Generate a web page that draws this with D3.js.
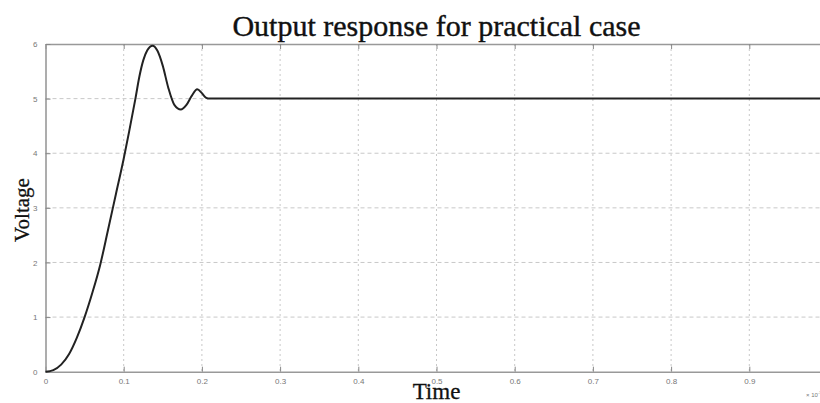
<!DOCTYPE html>
<html><head><meta charset="utf-8">
<script src="https://cdn.jsdelivr.net/npm/d3@7"></script>
<style>body{margin:0;background:#fff;}svg{display:block;}</style>
</head><body>
<svg id="c" width="820" height="403"></svg>
<script>
const title = "Output response for practical case";
const xLabel = "Time";
const yLabel = "Voltage";
const xTicks = [0,0.1,0.2,0.3,0.4,0.5,0.6,0.7,0.8,0.9];
const xTickLabels = ["0","0.1","0.2","0.3","0.4","0.5","0.6","0.7","0.8","0.9"];
const yTicks = [0,1,2,3,4,5,6];
const timeVals = [0,0.01,0.02,0.03,0.04,0.05,0.06,0.07,0.08,0.09,0.1,0.107,0.115,0.12,0.125,0.13,0.137,0.143,0.15,0.157,0.165,0.173,0.18,0.187,0.194,0.2,0.205,0.21,0.3,0.5,1.0];
const voltVals = [0,0.03,0.13,0.32,0.62,1.0,1.45,1.96,2.6,3.25,3.9,4.4,5.0,5.4,5.7,5.88,5.97,5.88,5.6,5.2,4.88,4.8,4.88,5.05,5.17,5.1,5.02,5.0,5.0,5.0,5.0];

const svg = d3.select("#c");
const L = 45.5, R = 827.5, T = 44, B = 371.7;
const x = d3.scaleLinear().domain([0,1]).range([L,R]);
const y = d3.scaleLinear().domain([0,6]).range([B,T]);

// grid
const g = svg.append("g");
g.selectAll("line.vg").data(xTicks.slice(1)).enter().append("line")
  .attr("x1",d=>x(d)).attr("x2",d=>x(d)).attr("y1",T).attr("y2",B)
  .attr("stroke","#c8c8c8").attr("stroke-width",1).attr("stroke-dasharray","2,3");
g.selectAll("line.hg").data(yTicks.slice(1,-1)).enter().append("line")
  .attr("y1",d=>y(d)).attr("y2",d=>y(d)).attr("x1",L).attr("x2",820)
  .attr("stroke","#c8c8c8").attr("stroke-width",1).attr("stroke-dasharray","4,3");

// axes
const axColor = "#999";
const xAxis = d3.axisBottom(x).tickValues(xTicks).tickFormat((d,i)=>xTickLabels[i]).tickSizeInner(-5).tickSizeOuter(0).tickPadding(8);
const gx = svg.append("g").attr("transform",`translate(0,${B})`).call(xAxis);
const xTop = d3.axisTop(x).tickValues(xTicks).tickFormat("").tickSizeInner(-5).tickSizeOuter(0);
const gxt = svg.append("g").attr("transform",`translate(0,${T})`).call(xTop);
const yAxis = d3.axisLeft(y).tickValues(yTicks).tickFormat(d3.format("d")).tickSizeInner(-5).tickSizeOuter(0).tickPadding(8);
const gy = svg.append("g").attr("transform",`translate(${L},0)`).call(yAxis);
[gx,gxt,gy].forEach(a=>{
  a.select(".domain").attr("stroke",axColor).attr("stroke-width",1.6);
  a.selectAll(".tick line").attr("stroke","#888").attr("stroke-width",1);
  a.selectAll(".tick text").attr("fill","#777").attr("font-family","Liberation Sans, Arial, sans-serif").attr("font-size","8px");
});
gx.selectAll(".tick text").attr("dy","0.55em");

// curve
const pts = timeVals.map((t,i)=>[t,voltVals[i]]);
const line = d3.line().x(d=>x(d[0])).y(d=>y(d[1])).curve(d3.curveMonotoneX);
svg.append("path").datum(pts).attr("d",line).attr("fill","none")
  .attr("stroke","#222").attr("stroke-width",2);

// texts
svg.append("text").attr("x",(L+R)/2).attr("y",36).attr("text-anchor","middle")
  .attr("font-family","Liberation Serif, Times New Roman, serif").attr("font-size","30px")
  .attr("fill","#111").attr("stroke","#111").attr("stroke-width",0.4).text(title);
svg.append("text").attr("x",(L+R)/2).attr("y",399).attr("text-anchor","middle")
  .attr("font-family","Liberation Serif, Times New Roman, serif").attr("font-size","23px")
  .attr("fill","#111").attr("stroke","#111").attr("stroke-width",0.3).text(xLabel);
svg.append("text").attr("transform","translate(29,210) rotate(-90)").attr("text-anchor","middle")
  .attr("font-family","Liberation Serif, Times New Roman, serif").attr("font-size","21px")
  .attr("fill","#111").attr("stroke","#111").attr("stroke-width",0.3).text(yLabel);
const ex = svg.append("text").attr("x",806).attr("y",397)
  .attr("font-family","Liberation Sans, Arial, sans-serif").attr("font-size","6px").attr("fill","#777");
ex.append("tspan").text("× 10");
ex.append("tspan").attr("dy","-3").attr("font-size","4px").text("-3");
</script>
</body></html>
